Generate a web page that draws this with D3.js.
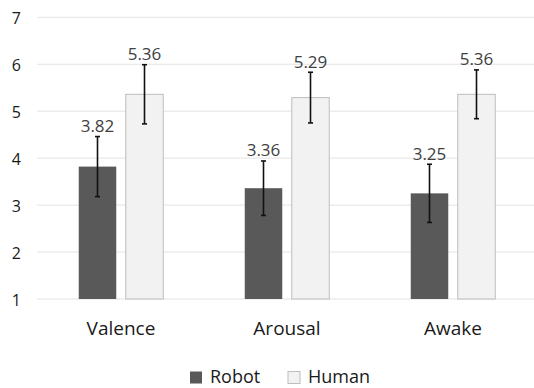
<!DOCTYPE html>
<html><head><meta charset="utf-8">
<script src="https://cdn.jsdelivr.net/npm/d3@7"></script>
<style>body{margin:0;background:#fff}svg{display:block}text{font-family:"Open Sans",sans-serif}</style>
</head><body><svg id="c" width="534" height="388"></svg>
<script>
const categories = ["Valence", "Arousal", "Awake"];
const series = ["Robot", "Human"];
const robotValues = [3.82, 3.36, 3.25];
const humanValues = [5.36, 5.29, 5.36];
const robotErr = [0.64, 0.58, 0.62];
const humanErr = [0.63, 0.54, 0.52];
const yTicks = [1, 2, 3, 4, 5, 6, 7];
const colors = {Robot: "#595959", Human: "#f2f2f2"};

const svg = d3.select("#c");
const x0 = d3.scaleBand().domain(categories).range([38, 536]).paddingInner(0).paddingOuter(0);
const y = d3.scaleLinear().domain([1, 7]).range([299, 17.3]);
const bw = 37.5, gap = 9.5;

// grid
svg.append("g").selectAll("line").data(yTicks).join("line")
  .attr("x1", 37).attr("x2", 534).attr("y1", d => y(d)).attr("y2", d => y(d))
  .attr("stroke", "#e3e3e3").attr("stroke-width", 1);

const yAxis = d3.axisLeft(y).tickValues(yTicks).tickFormat(d3.format("d")).tickSize(0).tickPadding(0);
const ga = svg.append("g").attr("transform", "translate(21,0)").call(yAxis)
  .attr("font-family", null).attr("font-size", null);
ga.select(".domain").remove();
ga.selectAll("text").attr("font-size", 16).attr("fill", "#1a1a1a").attr("dy", null).attr("y", 6.2);

const data = [];
categories.forEach((c, i) => {
  data.push({c, s: "Robot", v: robotValues[i], e: robotErr[i], off: -gap/2 - bw});
  data.push({c, s: "Human", v: humanValues[i], e: humanErr[i], off: gap/2});
});
const cx = c => x0(c) + x0.bandwidth()/2;

svg.append("g").selectAll("rect").data(data).join("rect")
  .attr("x", d => cx(d.c) + d.off).attr("width", bw)
  .attr("y", d => y(d.v)).attr("height", d => y(1) - y(d.v))
  .attr("fill", d => colors[d.s])
  .attr("stroke", d => d.s === "Human" ? "#bdbdbd" : "none").attr("stroke-width", 1);

const eg = svg.append("g").attr("stroke", "#111").attr("stroke-width", 1.6);
data.forEach(d => {
  const mx = cx(d.c) + d.off + bw/2;
  eg.append("line").attr("x1", mx).attr("x2", mx).attr("y1", y(d.v + d.e)).attr("y2", y(d.v - d.e));
  [d.v + d.e, d.v - d.e].forEach(t => eg.append("line").attr("x1", mx - 2.5).attr("x2", mx + 2.5).attr("y1", y(t)).attr("y2", y(t)));
});

svg.append("g").selectAll("text").data(data).join("text")
  .attr("x", d => cx(d.c) + d.off + bw/2).attr("y", d => y(d.v + d.e) - 4.5)
  .attr("text-anchor", "middle").attr("font-size", 17).attr("fill", "#404040")
  .text(d => d.v.toFixed(2));

const xAxis = d3.axisBottom(x0).tickSize(0).tickPadding(0);
const gx = svg.append("g").attr("transform", "translate(0,335)").call(xAxis)
  .attr("font-family", null).attr("font-size", null);
gx.select(".domain").remove();
gx.selectAll("text").attr("font-size", 19).attr("fill", "#1a1a1a").attr("dy", null).attr("y", 0);

// legend
const leg = svg.append("g");
const legX = [190, 288];
series.forEach((s, i) => {
  leg.append("rect").attr("x", legX[i]).attr("y", 371.5).attr("width", 12).attr("height", 12)
    .attr("fill", colors[s]).attr("stroke", s === "Human" ? "#bdbdbd" : "none");
  leg.append("text").attr("x", legX[i] + 20).attr("y", 383)
    .attr("font-size", 18).attr("fill", "#1a1a1a").text(s);
});
</script></body></html>
